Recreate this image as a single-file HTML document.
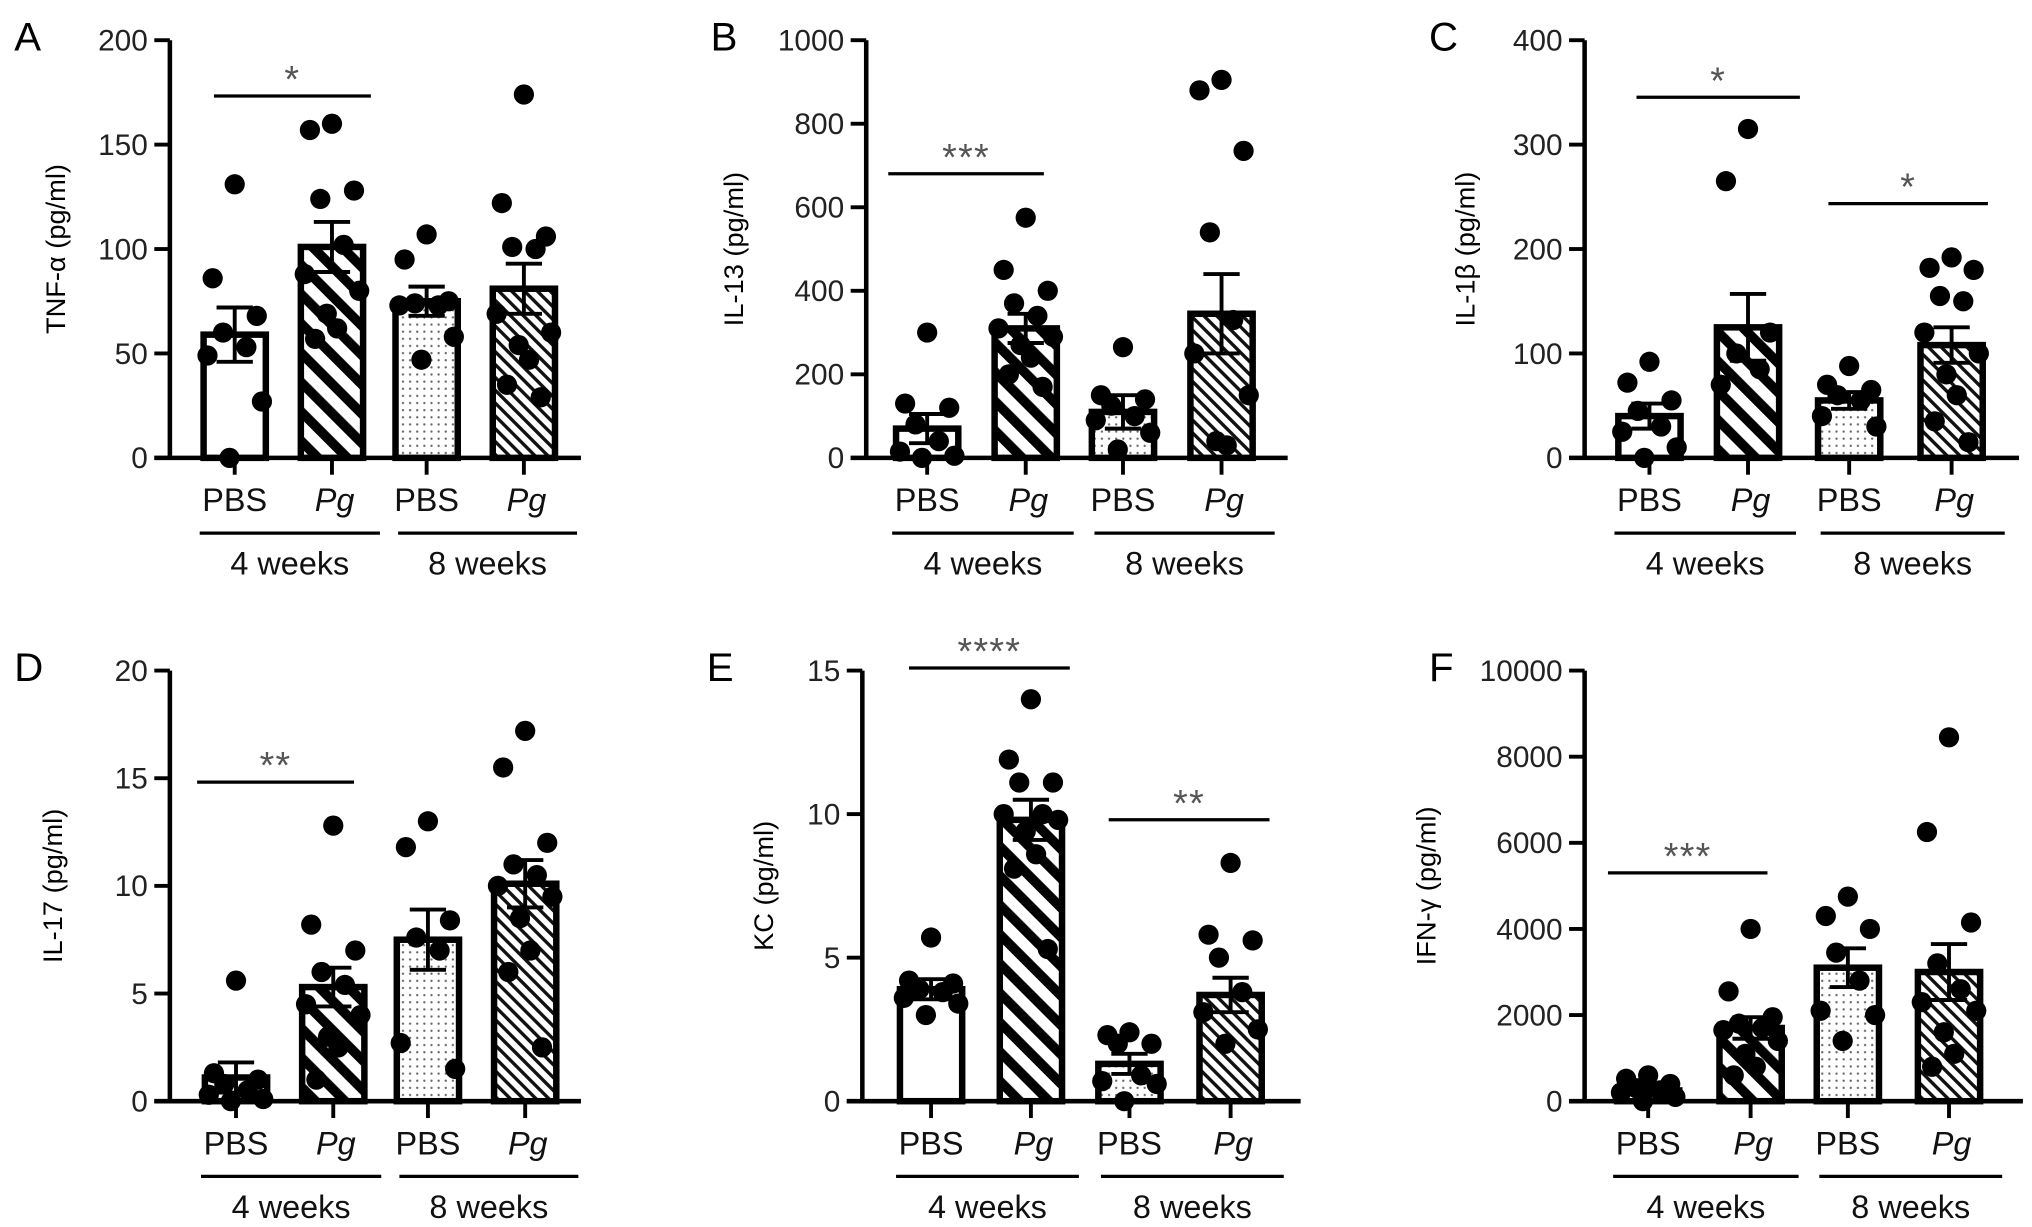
<!DOCTYPE html>
<html><head><meta charset="utf-8">
<style>
html,body{margin:0;padding:0;background:#fff;}
svg{display:block;font-family:"Liberation Sans",Arial,sans-serif;}
</style></head>
<body>
<svg id="fig" width="2032" height="1227" viewBox="0 0 1567 946" preserveAspectRatio="none" xmlns="http://www.w3.org/2000/svg">
<defs>
<pattern id="thick" patternUnits="userSpaceOnUse" width="16" height="16" patternTransform="rotate(-45)">
<rect width="16" height="16" fill="#fff"/><rect x="0" y="0" width="7.5" height="16" fill="#000"/></pattern>
<pattern id="thin" patternUnits="userSpaceOnUse" width="7" height="7" patternTransform="rotate(-45)">
<rect width="7" height="7" fill="#fff"/><rect x="0" y="0" width="2.6" height="7" fill="#111"/></pattern>
<pattern id="dots" patternUnits="userSpaceOnUse" width="5.5" height="5.5">
<rect width="5.5" height="5.5" fill="#fff"/><circle cx="2.75" cy="2.75" r="0.9" fill="#666"/></pattern>
</defs>
</svg>
<script>
// ---- data ----
const groupLabels = ["PBS","Pg","PBS","Pg"];
const weekLabels = ["4 weeks","8 weeks"];

const tnfMeans = [59,101,75,81];
const tnfSems = [13,12,7,12];
const tnfPts = [[131,86,68,60,53,49,27,0],[160,157,128,124,102,88,80,69,62,57],[107,95,75,74,73,73,58,47],[174,122,106,101,100,69,60,54,47,35,29]];
const tnfTicks = [0,50,100,150,200];

const il13Means = [70,310,110,345];
const il13Sems = [35,35,40,95];
const il13Pts = [[300,130,120,80,40,15,5,0],[575,450,400,370,340,310,290,270,240,200,170],[265,150,140,125,100,90,60,20],[905,880,735,540,330,250,150,40,30]];
const il13Ticks = [0,200,400,600,800,1000];

const il1bMeans = [40,125,55,108];
const il1bSems = [12,32,8,17];
const il1bPts = [[92,72,55,45,30,25,10,0],[315,265,120,100,85,70],[88,70,65,60,55,40,30],[192,182,180,155,150,120,100,80,60,35,15]];
const il1bTicks = [0,100,200,300,400];

const il17Means = [1.1,5.3,7.5,10.1];
const il17Sems = [0.7,0.9,1.4,1.1];
const il17Pts = [[5.6,1.3,1.0,0.8,0.5,0.3,0.1,0],[12.8,8.2,7,6,5.4,4.5,4,3,2.5,1],[13,11.8,8.4,7.6,7,2.7,1.5],[17.2,15.5,12,11,10.5,10,9.5,8.5,7,6,2.5]];
const il17Ticks = [0,5,10,15,20];

const kcMeans = [3.9,9.8,1.3,3.7];
const kcSems = [0.35,0.7,0.35,0.6];
const kcPts = [[5.7,4.2,4.1,3.9,3.8,3.6,3.4,3.0],[14.0,11.9,11.1,11.1,10.0,10.0,9.8,9.4,8.6,8.1,5.3],[2.4,2.3,2.0,2.0,0.9,0.7,0.6,0],[8.3,5.8,5.6,5.0,3.8,3.1,2.5,2.0]];
const kcTicks = [0,5,10,15];

const ifnMeans = [250,1700,3100,3000];
const ifnSems = [80,250,450,650];
const ifnPts = [[600,520,400,300,250,200,100,0],[4000,2550,1950,1800,1700,1650,1400,1100,800,600],[4750,4300,4000,3450,2800,2100,2000,1400],[8450,6250,4150,3200,2600,2300,2100,1600,1100,800]];
const ifnTicks = [0,2000,4000,6000,8000,10000];

// ---- layout ----
const NS = "http://www.w3.org/2000/svg";
const svg = document.getElementById("fig");
const fills = ["#fff","url(#thick)","url(#dots)","url(#thin)"];
const jit = [0,-17,17,-9,9,-21,21,-4,4,-13,13];

function el(tag, attrs, parent){
  const e = document.createElementNS(NS, tag);
  for (const k in attrs) e.setAttribute(k, attrs[k]);
  (parent||svg).appendChild(e);
  return e;
}

function panel(p){
  const g = el("g", {});
  
  
  const max = p.ticks[p.ticks.length-1];
  const y = v => p.zero - (v/max)*(p.zero - p.top);

  const L = el("text", {x:p.axis-120, y:p.top+8, "font-size":31}, g);
  L.textContent = p.letter;
  
  

  const t = el("text", {x:p.titleX, y:(p.top+p.zero)/2, "font-size":21, "text-anchor":"middle", transform:`rotate(-90 ${p.titleX} ${(p.top+p.zero)/2})`}, g);
  t.textContent = p.title;
  
  

  p.means.forEach((m,i)=>{
    const cx = p.bars[i];
    const r = el("rect", {x:cx-24, y:y(m), width:48, height:p.zero-y(m), fill:fills[i], stroke:"#000", "stroke-width":5}, g);
    
    
  });
  p.pts.forEach((arr,i)=>{
    arr.forEach((v,j)=>{
      const c = el("circle", {cx:p.bars[i]+jit[j%jit.length], cy:y(v), r:7.8, fill:"#000"}, g);
      
      
    });
  });
  p.means.forEach((m,i)=>{
    const cx = p.bars[i];
    const e = el("path", {d:`M${cx} ${y(m-p.sems[i])}V${y(m+p.sems[i])}M${cx-14} ${y(m+p.sems[i])}H${cx+14}M${cx-14} ${y(m-p.sems[i])}H${cx+14}`, stroke:"#000", "stroke-width":3, fill:"none"}, g);
    
    
  });
  const ya = el("path", {d:`M${p.axis} ${p.zero}V${p.top}`, stroke:"#000", "stroke-width":3.5, fill:"none"}, g);
  
  
  const xa = el("path", {d:`M${p.axis-12} ${p.zero}H${p.xEnd}`, stroke:"#000", "stroke-width":3.5}, g);
  
  
  p.ticks.forEach(v=>{
    const tk = el("path", {d:`M${p.axis-12} ${y(v)}H${p.axis}`, stroke:"#000", "stroke-width":3}, g);
    
    
    const tl = el("text", {x:p.axis-17, y:y(v)+8, "font-size":23, "text-anchor":"end", fill:"#222"}, g);
    tl.textContent = v;
    
    
  });
  p.bars.forEach((cx,i)=>{
    const tk = el("path", {d:`M${cx} ${p.zero}V${p.zero+13}`, stroke:"#000", "stroke-width":3}, g);
    
    
    const lb = el("text", {x:cx+(i%2?2:0), y:p.zero+41, "font-size":25, "text-anchor":"middle", "font-style":(i%2?"italic":"normal"), fill:"#111"}, g);
    lb.textContent = groupLabels[i];
    
    
  });
  [[p.bars[0]-27,p.bars[1]+37],[p.bars[2]-22,p.bars[3]+41]].forEach((s,k)=>{
    const ln = el("path", {d:`M${s[0]} ${p.zero+58}H${s[1]}`, stroke:"#000", "stroke-width":2.5}, g);
    
    
    const wt = el("text", {x:(s[0]+s[1])/2, y:p.zero+90, "font-size":25, "text-anchor":"middle", fill:"#111"}, g);
    wt.textContent = weekLabels[k];
    
    
  });
  p.sig.forEach(s=>{
    const ln = el("path", {d:`M${s[0]} ${s[2]}H${s[1]}`, stroke:"#000", "stroke-width":2.5}, g);
    
    
    const st = el("text", {x:(s[0]+s[1])/2, y:s[2]-3, "font-size":29, "text-anchor":"middle", fill:"#555", "letter-spacing":"1"}, g);
    st.textContent = s[3];
    
    
  });
}

panel({letter:"A", title:"TNF-α (pg/ml)", titleX:50, axis:131, xEnd:448, bars:[181,256,329,404], top:31, zero:353,
  ticks:tnfTicks, means:tnfMeans, sems:tnfSems, pts:tnfPts, sig:[[165,286,74,"*"]]});
panel({letter:"B", title:"IL-13 (pg/ml)", titleX:573, axis:668, xEnd:993, bars:[715,791,866,942], top:31, zero:353,
  ticks:il13Ticks, means:il13Means, sems:il13Sems, pts:il13Pts, sig:[[685,805,134,"***"]]});
panel({letter:"C", title:"IL-1β (pg/ml)", titleX:1137, axis:1222, xEnd:1557, bars:[1272,1348,1426,1505], top:31, zero:353,
  ticks:il1bTicks, means:il1bMeans, sems:il1bSems, pts:il1bPts, sig:[[1262,1388,75,"*"],[1410,1533,157,"*"]]});
panel({letter:"D", title:"IL-17 (pg/ml)", titleX:48, axis:131, xEnd:448, bars:[182,257,330,405], top:517, zero:849,
  ticks:il17Ticks, means:il17Means, sems:il17Sems, pts:il17Pts, sig:[[152,273,603,"**"]]});
panel({letter:"E", title:"KC (pg/ml)", titleX:596, axis:665, xEnd:1003, bars:[718,795,871,949], top:517, zero:849,
  ticks:kcTicks, means:kcMeans, sems:kcSems, pts:kcPts, sig:[[701,825,515,"****"],[855,979,632,"**"]]});
panel({letter:"F", title:"IFN-γ (pg/ml)", titleX:1107, axis:1222, xEnd:1560, bars:[1271,1350,1425,1503], top:517, zero:849,
  ticks:ifnTicks, means:ifnMeans, sems:ifnSems, pts:ifnPts, sig:[[1240,1363,673,"***"]]});
</script>
</body></html>
